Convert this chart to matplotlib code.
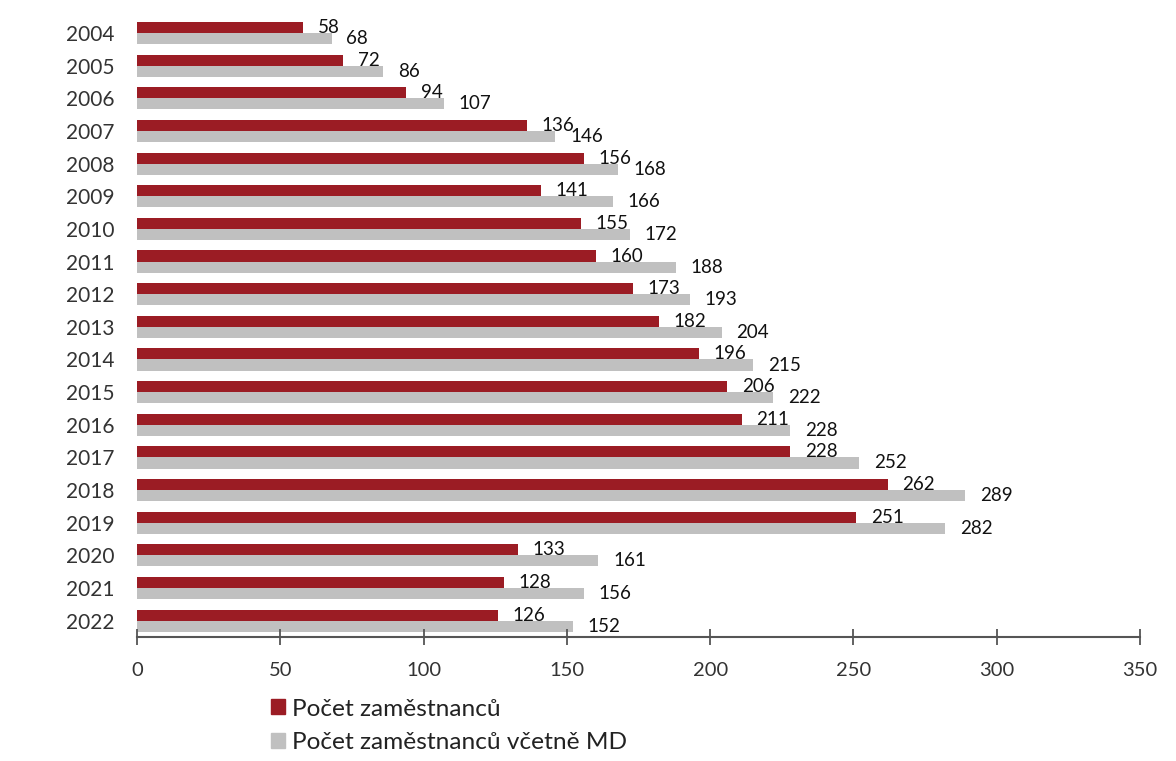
import numpy as np
import matplotlib.pyplot as plt
from matplotlib.patches import Patch

plt.rcParams['font.family'] = ['Lato', 'DejaVu Sans']

years = ['2004', '2005', '2006', '2007', '2008', '2009', '2010', '2011', '2012', '2013',
         '2014', '2015', '2016', '2017', '2018', '2019', '2020', '2021', '2022']
zamestnanci = [58, 72, 94, 136, 156, 141, 155, 160, 173, 182,
               196, 206, 211, 228, 262, 251, 133, 128, 126]
vcetne_md = [68, 86, 107, 146, 168, 166, 172, 188, 193, 204,
             215, 222, 228, 252, 289, 282, 161, 156, 152]
series_names = ['Počet zaměstnanců', 'Počet zaměstnanců včetně MD']

red = '#9b1c24'
grey = '#c0c0c0'

fig = plt.figure(figsize=(11.76, 7.61), dpi=100)
ax = fig.add_axes([0.1165, 0.163, 0.8529, 0.815])

y = np.arange(len(years))
h = 0.34
ax.barh(y - h / 2, zamestnanci, height=h, color=red)
ax.barh(y + h / 2, vcetne_md, height=h, color=grey)

# value labels just past the end of each bar
for yi, a, b in zip(y, zamestnanci, vcetne_md):
    ax.annotate(str(a), (a, yi - h / 2), xytext=(10.5, 0), textcoords='offset points',
                va='center', ha='left', fontsize=13.5, color='#111111')
    ax.annotate(str(b), (b, yi + h / 2), xytext=(10.5, 0), textcoords='offset points',
                va='center', ha='left', fontsize=13.5, color='#111111')

ax.set_xlim(0, 350)
ax.set_ylim(len(years) - 0.5, -0.5)
ax.set_xticks(range(0, 351, 50))
ax.set_yticks(y)
ax.set_yticklabels(years)

for s in ['top', 'right', 'left']:
    ax.spines[s].set_visible(False)
ax.spines['bottom'].set_color('#555555')
ax.spines['bottom'].set_linewidth(1.5)
ax.tick_params(axis='x', direction='inout', length=12, width=1.3, color='#555555',
               labelsize=14.5, labelcolor='#333333', pad=12)
ax.tick_params(axis='y', length=0, labelsize=15, labelcolor='#333333', pad=16)

handles = [Patch(color=red), Patch(color=grey)]
fig.legend(handles, series_names, loc='upper left', bbox_to_anchor=(0.2304, 0.082),
           frameon=False, fontsize=17.6, handlelength=0.57, handleheight=0.57,
           handletextpad=0.29, labelspacing=0.5, borderaxespad=0, borderpad=0,
           labelcolor='#222222')

fig.savefig('out.png', dpi=100, facecolor='white')
